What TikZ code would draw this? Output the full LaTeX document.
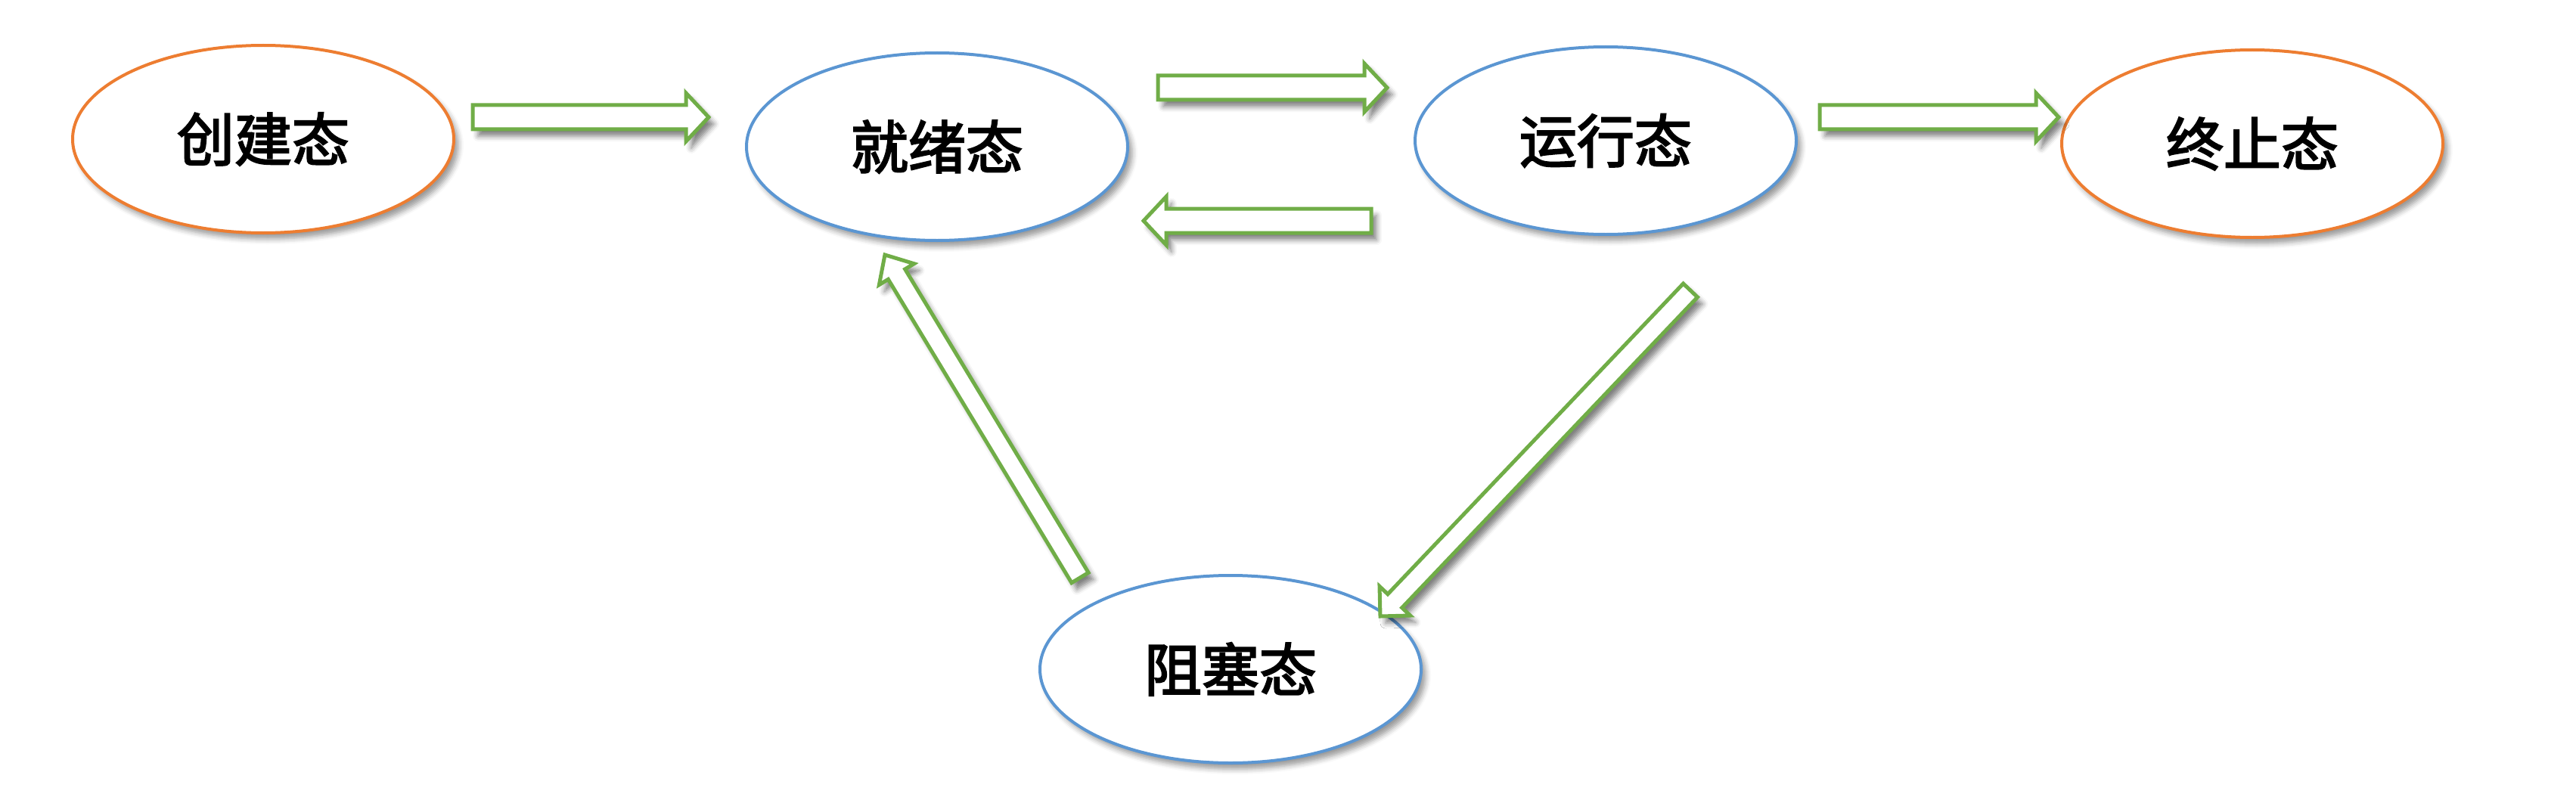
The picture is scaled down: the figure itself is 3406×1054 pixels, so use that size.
\documentclass[tikz,border=0pt]{standalone}
\usepackage{fontspec}
\newfontfamily\cjk[FakeBold=2.8]{Noto Sans CJK SC}
\usetikzlibrary{calc,shadows.blur,shapes.geometric}
\definecolor{orangeline}{RGB}{237,125,49}
\definecolor{blueline}{RGB}{91,150,210}
\definecolor{greenline}{RGB}{112,173,71}
\tikzset{
  softshadow/.style={blur shadow={shadow xshift=6pt, shadow yshift=-8pt, shadow blur radius=7pt, shadow opacity=40}},
  arrowshadow/.style={blur shadow={shadow xshift=7pt, shadow yshift=-9pt, shadow blur radius=7pt, shadow opacity=50}},
  stnode/.style={ellipse, draw, line width=4pt, fill=white, minimum width=504pt, minimum height=248pt, inner sep=0pt, font=\cjk\fontsize{76}{80}\selectfont, softshadow},
  endstate/.style={stnode, draw=orangeline},
  midstate/.style={stnode, draw=blueline},
  barrow/.style={draw=greenline, line width=5pt, fill=white, line join=miter, arrowshadow},
}
\newcommand\blockarrow[5]{%
  \coordinate (tmpH) at ($(#2)!#5!(#1)$);
  \draw[barrow] ($(#1)!#3!90:(#2)$) -- ($(tmpH)!#3!-90:(#1)$) -- ($(tmpH)!#4!-90:(#1)$) -- (#2) -- ($(tmpH)!#4!90:(#1)$) -- ($(tmpH)!#3!90:(#1)$) -- ($(#1)!#3!-90:(#2)$) -- cycle;
}
\begin{document}
\begin{tikzpicture}[x=1pt,y=-1pt]
  \useasboundingbox (0,0) rectangle (3406,1054);
  \node[endstate] (create) at (348,184) {创建态};
  \node[midstate] (ready) at (1239,194) {就绪态};
  \node[midstate] (run) at (2123,186) {运行态};
  \node[endstate] (term) at (2978,190) {终止态};
  \node[midstate] (blocked) at (1627,885) {阻塞态};

  \coordinate (a1s) at (625,155);  \coordinate (a1e) at (937,155);
  \coordinate (a2s) at (1531,116); \coordinate (a2e) at (1834,116);
  \coordinate (a3s) at (1813,292); \coordinate (a3e) at (1512,292);
  \coordinate (a4s) at (2406,155); \coordinate (a4e) at (2722,155);
  \coordinate (a5s) at (1428,764); \coordinate (a5e) at (1170,337);
  \coordinate (a6s) at (2235,384); \coordinate (a6e) at (1825,815);

  \blockarrow{a1s}{a1e}{16pt}{32pt}{30pt}
  \blockarrow{a2s}{a2e}{16pt}{32pt}{30pt}
  \blockarrow{a3s}{a3e}{16pt}{32pt}{30pt}
  \blockarrow{a4s}{a4e}{16pt}{32pt}{30pt}
  \blockarrow{a5s}{a5e}{13pt}{27pt}{30pt}
  \blockarrow{a6s}{a6e}{13pt}{28pt}{28pt}
\end{tikzpicture}
\end{document}
